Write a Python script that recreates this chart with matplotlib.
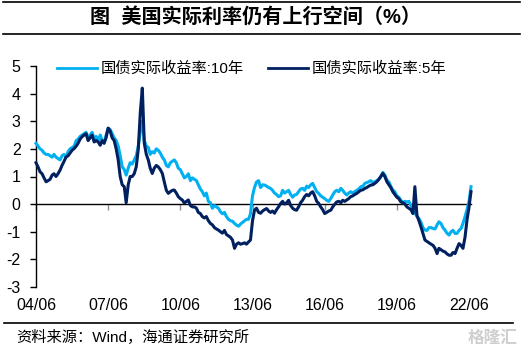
import matplotlib
matplotlib.use("Agg")
import matplotlib.pyplot as plt
import pandas as pd

plt.rcParams['font.family'] = ['Liberation Sans', 'Noto Sans CJK SC', 'DejaVu Sans']

# ---------------- data (monthly, 2004-06 .. 2022-07) ----------------
start_month = '2004-06-01'
tips10 = [
    2.2, 2.1, 2.0, 1.95, 1.85, 1.8, 1.8,
    1.75, 1.7, 1.8, 1.7, 1.65, 1.6, 1.75, 1.8, 1.7, 1.9, 2.0, 2.05,
    2.1, 2.3, 2.35, 2.45, 2.5, 2.55, 2.6, 2.4, 2.5, 2.6, 2.35, 2.45,
    2.3, 2.5, 2.3, 2.25, 2.5, 2.75, 2.7, 2.55, 2.4, 2.3, 2.1, 1.75,
    1.35, 1.25, 1.05, 1.3, 1.5, 1.45, 1.6, 1.75, 2.1, 2.6, 3.0, 2.3,
    2.1, 2.05, 1.8, 1.9, 1.85, 2.0, 1.95, 1.85, 1.7, 1.6, 1.4, 1.35,
    1.5, 1.55, 1.6, 1.5, 1.3, 1.25, 1.1, 0.95, 1.0, 1.1, 0.85, 0.95,
    0.9, 0.85, 0.7, 0.55, 0.45, 0.3, 0.4, 0.1, 0.05, -0.15, -0.05, -0.1,
    -0.15, -0.28, -0.35, -0.3, -0.45, -0.55, -0.6, -0.62, -0.7, -0.76, -0.8, -0.72,
    -0.66, -0.6, -0.55, -0.55, -0.35, 0.3, 0.6, 0.8, 0.85, 0.6, 0.7, 0.69,
    0.65, 0.6, 0.57, 0.5, 0.4, 0.35, 0.27, 0.3, 0.5, 0.4, 0.45, 0.5,
    0.35, 0.25, 0.33, 0.35, 0.45, 0.55, 0.57, 0.5, 0.65, 0.6, 0.7, 0.75,
    0.6, 0.45, 0.39, 0.3, 0.25, 0.2, 0.14, 0.1, 0.2, 0.33, 0.45, 0.5,
    0.45, 0.57, 0.5, 0.4, 0.33, 0.4, 0.45, 0.4, 0.45, 0.5, 0.55, 0.63,
    0.65, 0.75, 0.78, 0.81, 0.85, 0.78, 0.81, 0.85, 0.9, 0.99, 1.15, 1.05,
    0.87, 0.8, 0.65, 0.51, 0.45, 0.3, 0.25, 0.14, 0.05, 0.1, 0.08, 0.1,
    -0.05, -0.16, -0.3, -0.45, -0.52, -0.65, -0.85, -0.94, -0.95, -0.85, -0.85, -0.88,
    -0.9, -0.75, -0.64, -0.7, -0.85, -0.94, -1.05, -1.12, -1.0, -0.95, -1.06, -1.06,
    -0.95, -0.88, -0.7, -0.46, -0.2, 0.1, 0.63,
]
tips5 = [
    1.5, 1.35, 1.17, 1.1, 0.95, 0.81, 0.85,
    0.9, 1.05, 1.1, 1.0, 1.1, 1.23, 1.4, 1.55, 1.71, 1.75, 1.85, 1.95,
    2.01, 2.1, 2.2, 2.35, 2.44, 2.5, 2.55, 2.3, 2.4, 2.5, 2.25, 2.3,
    2.25, 2.13, 2.3, 2.2, 2.4, 2.75, 2.65, 2.4, 2.3, 2.0, 1.6, 1.0,
    0.7, 0.63, 0.05, 0.7, 1.0, 1.0, 1.1, 1.35, 2.0, 3.3, 4.2, 2.2,
    1.8, 1.59, 1.3, 1.11, 1.3, 1.4, 1.35, 1.25, 1.11, 0.8, 0.5, 0.39,
    0.45, 0.5, 0.51, 0.4, 0.27, 0.2, 0.15, 0.04, 0.1, 0.15, -0.05, -0.1,
    -0.1, -0.15, -0.3, -0.34, -0.45, -0.5, -0.45, -0.6, -0.7, -0.75, -0.85, -0.9,
    -0.94, -1.0, -1.05, -0.95, -1.1, -1.15, -1.2, -1.3, -1.6, -1.45, -1.4, -1.45,
    -1.43, -1.4, -1.45, -1.37, -1.3, -0.6, -0.22, -0.15, -0.3, -0.33, -0.25, -0.2,
    -0.16, -0.25, -0.3, -0.25, -0.33, -0.2, -0.1, 0.02, 0.1, 0.0, 0.05, 0.14,
    -0.05, -0.15, -0.2, -0.22, -0.1, 0.05, 0.14, 0.27, 0.35, 0.3, 0.4, 0.45,
    0.3, 0.1, 0.03, -0.1, -0.2, -0.34, -0.3, -0.25, -0.22, -0.1, 0.0, 0.08,
    0.1, 0.05, 0.14, 0.1, 0.15, 0.2, 0.27, 0.3, 0.35, 0.39, 0.45, 0.5,
    0.52, 0.57, 0.6, 0.65, 0.69, 0.7, 0.75, 0.81, 0.9, 1.0, 1.11, 1.0,
    0.81, 0.7, 0.6, 0.45, 0.35, 0.25, 0.2, 0.08, 0.05, 0.0, -0.1, -0.15,
    -0.2, -0.34, 0.63, -0.4, -0.6, -0.82, -1.05, -1.3, -1.35, -1.4, -1.45, -1.49,
    -1.6, -1.79, -1.6, -1.65, -1.7, -1.73, -1.8, -1.85, -1.85, -1.75, -1.79, -1.6,
    -1.43, -1.5, -1.6, -1.2, -0.58, -0.1, 0.45,
]
series_names = ['国债实际收益率:10年', '国债实际收益率:5年']
tick_dates = ['2004-06-01', '2007-06-01', '2010-06-01', '2013-06-01',
              '2016-06-01', '2019-06-01', '2022-06-01']
tick_labels = ['04/06', '07/06', '10/06', '13/06', '16/06', '19/06', '22/06']
y_ticks = [-3, -2, -1, 0, 1, 2, 3, 4, 5]

title = '图  美国实际利率仍有上行空间（%）'
source = '资料来源：Wind，海通证券研究所'

dates = pd.date_range(start_month, periods=len(tips10), freq='MS')

# ---------------- figure ----------------
W, H = 525, 354
fig = plt.figure(figsize=(W / 100, H / 100), dpi=100)

def fx(px):
    return px / W

def fy(py):
    return 1 - py / H

ax = fig.add_axes([fx(36), fy(287), fx(471) - fx(36), fy(66) - fy(287)])

c10 = '#00B0F0'
c5 = '#002060'
ax.plot(dates, tips10, color=c10, lw=2.2, label=series_names[0], clip_on=False, zorder=3)
ax.plot(dates, tips5, color=c5, lw=2.2, label=series_names[1], clip_on=False, zorder=4)

ax.set_ylim(-3, 5)
ax.set_xlim(pd.Timestamp(start_month), dates[-1])
ax.set_yticks(y_ticks)
ax.set_yticklabels([str(v) for v in y_ticks])

for s in ['top', 'right', 'bottom']:
    ax.spines[s].set_visible(False)
ax.spines['left'].set_color('black')
ax.spines['left'].set_linewidth(1.0)

ax.tick_params(axis='y', direction='out', length=4, width=1, color='black',
               labelsize=11.5, pad=7, labelcolor='black')

xt = pd.to_datetime(tick_dates)
ax.set_xticks(xt)
ax.set_xticklabels(tick_labels)
ax.tick_params(axis='x', length=0, labelsize=11.5, pad=8, labelcolor='black')

# zero axis line with small tick marks
sec = ax.secondary_xaxis(3 / 8)
sec.set_xticks(xt)
sec.set_xticklabels([''] * len(xt))
sec.spines['bottom'].set_color('black')
sec.spines['bottom'].set_linewidth(1.0)
sec.tick_params(axis='x', direction='out', length=4, width=1, color='#909090')

leg = ax.legend(loc='center left', bbox_to_anchor=(fx(57), fy(69)),
                bbox_transform=fig.transFigure, ncol=2, frameon=False,
                fontsize=11, handlelength=2.6, handletextpad=0.25,
                columnspacing=1.6, borderpad=0, borderaxespad=0)
for line in leg.get_lines():
    line.set_linewidth(2.0)

# title and rules
fig.text(fx(255), fy(17), title, ha='center', va='center', fontsize=14.5,
         fontweight='bold', color='black')
fig.add_artist(plt.Line2D([fx(3), fx(520)], [fy(2), fy(2)], color='black', lw=1.2,
                          transform=fig.transFigure))
fig.add_artist(plt.Line2D([fx(3), fx(520)], [fy(34), fy(34)], color='black', lw=1.2,
                          transform=fig.transFigure))
fig.add_artist(plt.Line2D([fx(4), fx(513)], [fy(323), fy(323)], color='black', lw=1.2,
                          transform=fig.transFigure))

fig.text(fx(16), fy(337), source, ha='left', va='center', fontsize=11, color='black')
fig.text(fx(518), fy(338), '格隆汇', ha='right', va='center', fontsize=12,
         color='#cfcfcf', fontweight='bold')

fig.savefig('out.png', dpi=100)
